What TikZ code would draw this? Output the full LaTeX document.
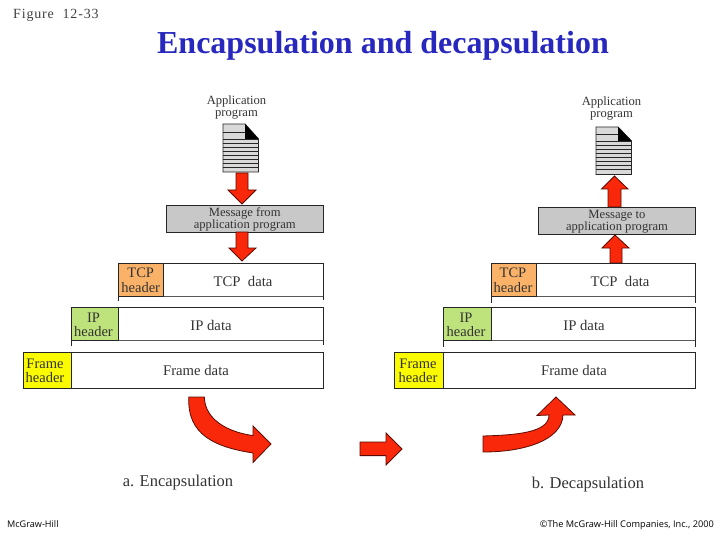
\documentclass[tikz,border=0pt]{standalone}
\usepackage{fontspec}
\setmainfont{Liberation Serif}
\setsansfont{Open Sans}
\begin{document}
\begin{tikzpicture}[x=1pt,y=-1pt,
  outl/.style={draw=black!85,line width=.95pt},
  redshape/.style={draw={rgb,255:red,90;green,10;blue,0},fill={rgb,255:red,250;green,40;blue,10},line width=.8pt,line join=miter},
  graybox/.style={outl,fill={rgb,255:red,200;green,200;blue,200}},
  lab/.style={font=\fontsize{14.7}{14}\selectfont,text=black!80,align=center,inner sep=0pt},
  smalllab/.style={font=\fontsize{12.6}{12}\selectfont,text=black!80,align=center,inner sep=0pt},
  hdrlab/.style={font=\fontsize{14.5}{14.5}\selectfont,text=black!80,align=center,inner sep=0pt},
  doclines/.style={black!85,line width=.8pt},
  capt/.style={inner sep=0pt,font=\fontsize{16.5}{18}\selectfont,text=black!80}
]
\useasboundingbox (0,0) rectangle (720,540);
\definecolor{torange}{RGB}{250,178,104}
\definecolor{ipgreen}{RGB}{190,226,124}
\definecolor{fyellow}{RGB}{250,250,0}
\definecolor{titleblue}{RGB}{40,40,190}

\node[anchor=west,inner sep=0pt,text=black!75,font=\rmfamily\fontsize{14}{14}\selectfont\addfontfeature{LetterSpace=6}] (fig) at (13,15) {Figure\ \ 12-33};
\node[inner sep=0pt,text=titleblue,font=\bfseries\fontsize{32}{34}\selectfont] (title) at (383,46) {Encapsulation and decapsulation};
\node[anchor=base west,inner sep=0pt,font=\sffamily\fontsize{9.1}{10}\selectfont] (mh) at (7,527.5) {McGraw-Hill};
\node[anchor=base east,inner sep=0pt,font=\sffamily\fontsize{9.2}{10}\selectfont] (cr) at (714,527.5) {©The McGraw-Hill Companies, Inc., 2000};

% Left panel
\node[smalllab] (appL) at (236.5,107) {Application\\program};
\fill[gray!30] (223,124) -- (245,124) -- (258.5,139) -- (258.5,172) -- (223,172) -- cycle;
\foreach \y in {132,139,143,147,151,155,159,163,167} \draw[doclines] (223,\y) -- (\ifdim\y pt<135pt 245\else 258.5\fi,\y);
\draw[outl] (223,124) -- (245,124) -- (258.5,139) -- (258.5,172) -- (223,172) -- cycle;
\fill[black] (245,124) -- (258.5,139) -- (245,139) -- cycle;
\draw[redshape] (236,173) -- (248,173) -- (248,190) -- (256,190) -- (242,204) -- (228,190) -- (236,190) -- cycle;
\node[graybox,minimum width=157.5pt,minimum height=27pt,inner sep=0pt,anchor=north west] (msgL) at (165.5,205) {};
\node[smalllab] at ([yshift=-.5pt]msgL.center) {Message from\\application program};
\draw[redshape] (236,232) -- (248,232) -- (248,248) -- (256,248) -- (242,261) -- (229,248) -- (236,248) -- cycle;

\draw[outl] (118,301) -- (118,263.5) -- (323,263.5) -- (323,300);
\draw[black!65,line width=.8pt] (118,296.5) -- (323,296.5);
\draw[outl,fill=torange] (118,263.5) rectangle (163.5,296.5);
\node[hdrlab] at (140.7,280.5) {TCP\\header};
\node[lab] at (243,281) {TCP\ \ data};

\draw[outl] (71,346) -- (71,307.5) -- (323,307.5) -- (323,345);
\draw[black!65,line width=.9pt] (71,340) -- (323,340);
\draw[outl,fill=ipgreen] (71,307.5) rectangle (118,340);
\node[hdrlab] at (93.5,325) {IP\\header};
\node[lab] at (211,325) {IP data};

\draw[outl,fill=white] (71,352) rectangle (323,388.5);
\draw[outl,fill=fyellow] (23,352) rectangle (71,388.5);
\node[hdrlab] at (45,371) {Frame\\header};
\node[lab] at (196,370) {Frame data};

% Right panel
\node[smalllab] (appR) at (611.5,108.5) {Application\\program};
\fill[gray!30] (596,127) -- (618,127) -- (631.5,141) -- (631.5,174.5) -- (596,174.5) -- cycle;
\foreach \y in {134,141,145,149,153,157,161,165,169} \draw[doclines] (596,\y) -- (\ifdim\y pt<137pt 618\else 631.5\fi,\y);
\draw[outl] (596,127) -- (618,127) -- (631.5,141) -- (631.5,174.5) -- (596,174.5) -- cycle;
\fill[black] (618,127) -- (631.5,141) -- (618,141) -- cycle;
\draw[redshape] (608,207) -- (621,207) -- (621,189) -- (628,189) -- (614.5,176) -- (601.5,189) -- (608,189) -- cycle;
\node[graybox,minimum width=157pt,minimum height=27pt,inner sep=0pt,anchor=north west] (msgR) at (538,207) {};
\node[smalllab] at ([yshift=-1pt]msgR.center) {Message to\\application program};
\draw[redshape] (610,263) -- (622,263) -- (622,248) -- (629,248) -- (615,235) -- (602,248) -- (610,248) -- cycle;

\draw[outl] (491,303) -- (491,263.5) -- (695,263.5) -- (695,303);
\draw[black!65,line width=.8pt] (491,296.5) -- (695,296.5);
\draw[outl,fill=torange] (491,263.5) rectangle (536,296.5);
\node[hdrlab] at (513,280.5) {TCP\\header};
\node[lab] at (620,281) {TCP\ \ data};

\draw[outl] (443,347) -- (443,307.5) -- (695,307.5) -- (695,347);
\draw[black!65,line width=.9pt] (443,340) -- (695,340);
\draw[outl,fill=ipgreen] (443,307.5) rectangle (491,340);
\node[hdrlab] at (466,325) {IP\\header};
\node[lab] at (584,325) {IP data};

\draw[outl,fill=white] (443,352) rectangle (695,388.5);
\draw[outl,fill=fyellow] (394.5,352) rectangle (443,388.5);
\node[hdrlab] at (418,371) {Frame\\header};
\node[lab] at (574,370) {Frame data};

% curved arrows
\draw[redshape] (188.8,397) -- (204.3,397) .. controls (205,420) and (228,432) .. (253,435.6)
  -- (253,426) -- (271,444) -- (253,462.5) -- (253,453)
  .. controls (215,447) and (187,435) .. (188.8,397) -- cycle;
\draw[redshape] (360,442) -- (386,442) -- (386,433) -- (402,449) -- (386,465) -- (386,455.6) -- (360,455.6) -- cycle;
\draw[redshape] (483,436) .. controls (515,435) and (549,433) .. (549,415) -- (537,415.5)
  -- (556,397) -- (575,415) -- (563,415) .. controls (562,440) and (525,452) .. (483,452) -- cycle;

\node[capt] (capa) at (178,483) {a. Encapsulation};
\node[capt] (capb) at (588,485) {b. Decapsulation};
\end{tikzpicture}
\end{document}
